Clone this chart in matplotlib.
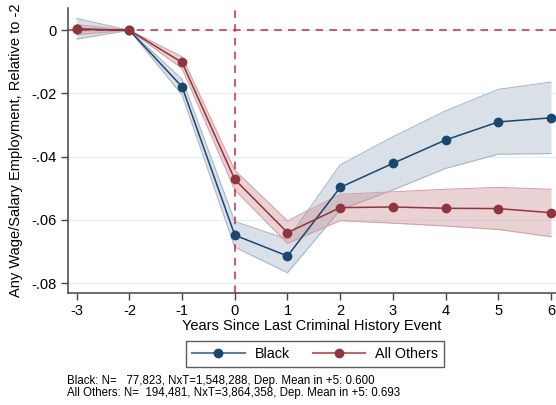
import matplotlib
matplotlib.use("Agg")
import matplotlib.pyplot as plt
from matplotlib.lines import Line2D
import numpy as np

plt.rcParams['font.family'] = ['Liberation Sans', 'DejaVu Sans']

years = [-3, -2, -1, 0, 1, 2, 3, 4, 5, 6]

black_est = [0.0004, 0.0, -0.0179, -0.0648, -0.0714, -0.0497, -0.0421, -0.0347, -0.0290, -0.0277]
black_lo = [-0.0028, 0.0, -0.0205, -0.0686, -0.0767, -0.0568, -0.0505, -0.0437, -0.0392, -0.0390]
black_hi = [0.0037, 0.0, -0.0155, -0.0605, -0.0661, -0.0426, -0.0337, -0.0255, -0.0187, -0.0164]

other_est = [0.0003, 0.0, -0.0102, -0.0472, -0.0640, -0.0561, -0.0559, -0.0563, -0.0564, -0.0577]
other_lo = [-0.0014, 0.0, -0.0121, -0.0505, -0.0674, -0.0602, -0.0610, -0.0619, -0.0630, -0.0653]
other_hi = [0.0018, 0.0, -0.0084, -0.0443, -0.0603, -0.0519, -0.0511, -0.0503, -0.0497, -0.0503]

y_ticks = [0, -0.02, -0.04, -0.06, -0.08]
y_ticklabels = ["0", "-.02", "-.04", "-.06", "-.08"]

note_lines = ["Black: N=   77,823, NxT=1,548,288, Dep. Mean in +5: 0.600",
              "All Others: N=  194,481, NxT=3,864,358, Dep. Mean in +5: 0.693"]

navy = "#1a476f"
maroon = "#90353b"
ref_red = "#c8294f"

fig = plt.figure(figsize=(5.56, 4.05), dpi=100)
ax = fig.add_axes([0.1223, 0.2773, 0.8777, 0.7027])

for v in y_ticks:
    ax.axhline(v, color="#e6eff1", lw=0.9, zorder=0)

ax.fill_between(years, black_lo, black_hi, color="#d9e0e8", alpha=1.0, zorder=1, lw=0)
ax.plot(years, black_lo, color="#a9b9c9", lw=0.8, zorder=1.1)
ax.plot(years, black_hi, color="#a9b9c9", lw=0.8, zorder=1.1)
ax.fill_between(years, other_lo, other_hi, color="#c98b90", alpha=0.38, zorder=2, lw=0)
ax.plot(years, other_lo, color="#d6a2a6", lw=0.8, zorder=2.1)
ax.plot(years, other_hi, color="#d6a2a6", lw=0.8, zorder=2.1)

ax.axhline(0, color=ref_red, lw=1.1, ls=(0, (5, 4)), zorder=2.5)
ax.axvline(0, color=ref_red, lw=1.1, ls=(0, (5, 4)), zorder=2.5)

ax.plot(years, black_est, color=navy, lw=1.1, marker="o", ms=6, zorder=3)
ax.plot(years, other_est, color=maroon, lw=1.1, marker="o", ms=6, zorder=4)

ax.set_xlim(-3.165, 6.095)
ax.set_ylim(-0.083, 0.007)
ax.set_xticks(years)
ax.set_xticklabels([str(y) for y in years])
ax.set_yticks(y_ticks)
ax.set_yticklabels(y_ticklabels)
ax.tick_params(axis='both', direction='out', length=5, width=1, color="#444444",
               labelsize=10.5, pad=3, labelcolor="#000000")
for s in ["top", "right"]:
    ax.spines[s].set_visible(False)
for s in ["left", "bottom"]:
    ax.spines[s].set_color("#444444")
    ax.spines[s].set_linewidth(1.1)

ax.set_xlabel("Years Since Last Criminal History Event", fontsize=10.5, labelpad=1)
ax.set_ylabel("Any Wage/Salary Employment, Relative to -2", fontsize=10.5, labelpad=6)

handles = [Line2D([0], [0], color="#5d7fa2", lw=1.5, marker="o", ms=6,
                  markerfacecolor=navy, markeredgecolor=navy),
           Line2D([0], [0], color="#b86a70", lw=1.5, marker="o", ms=6,
                  markerfacecolor=maroon, markeredgecolor=maroon)]
leg = fig.legend(handles, ["Black", "All Others"], loc="center",
                 bbox_to_anchor=(0.5666, 0.1259), ncol=2, fontsize=10.3,
                 frameon=True, fancybox=False, edgecolor="#333333",
                 handlelength=3.7, columnspacing=1.6, handletextpad=0.7,
                 borderpad=0.42)
leg.get_frame().set_linewidth(1.0)

fig.text(0.12, 1 - 381 / 405, note_lines[0], fontsize=8.3, ha="left", va="center")
fig.text(0.12, 1 - 393 / 405, note_lines[1], fontsize=8.3, ha="left", va="center")

fig.savefig("out.png", dpi=100)
